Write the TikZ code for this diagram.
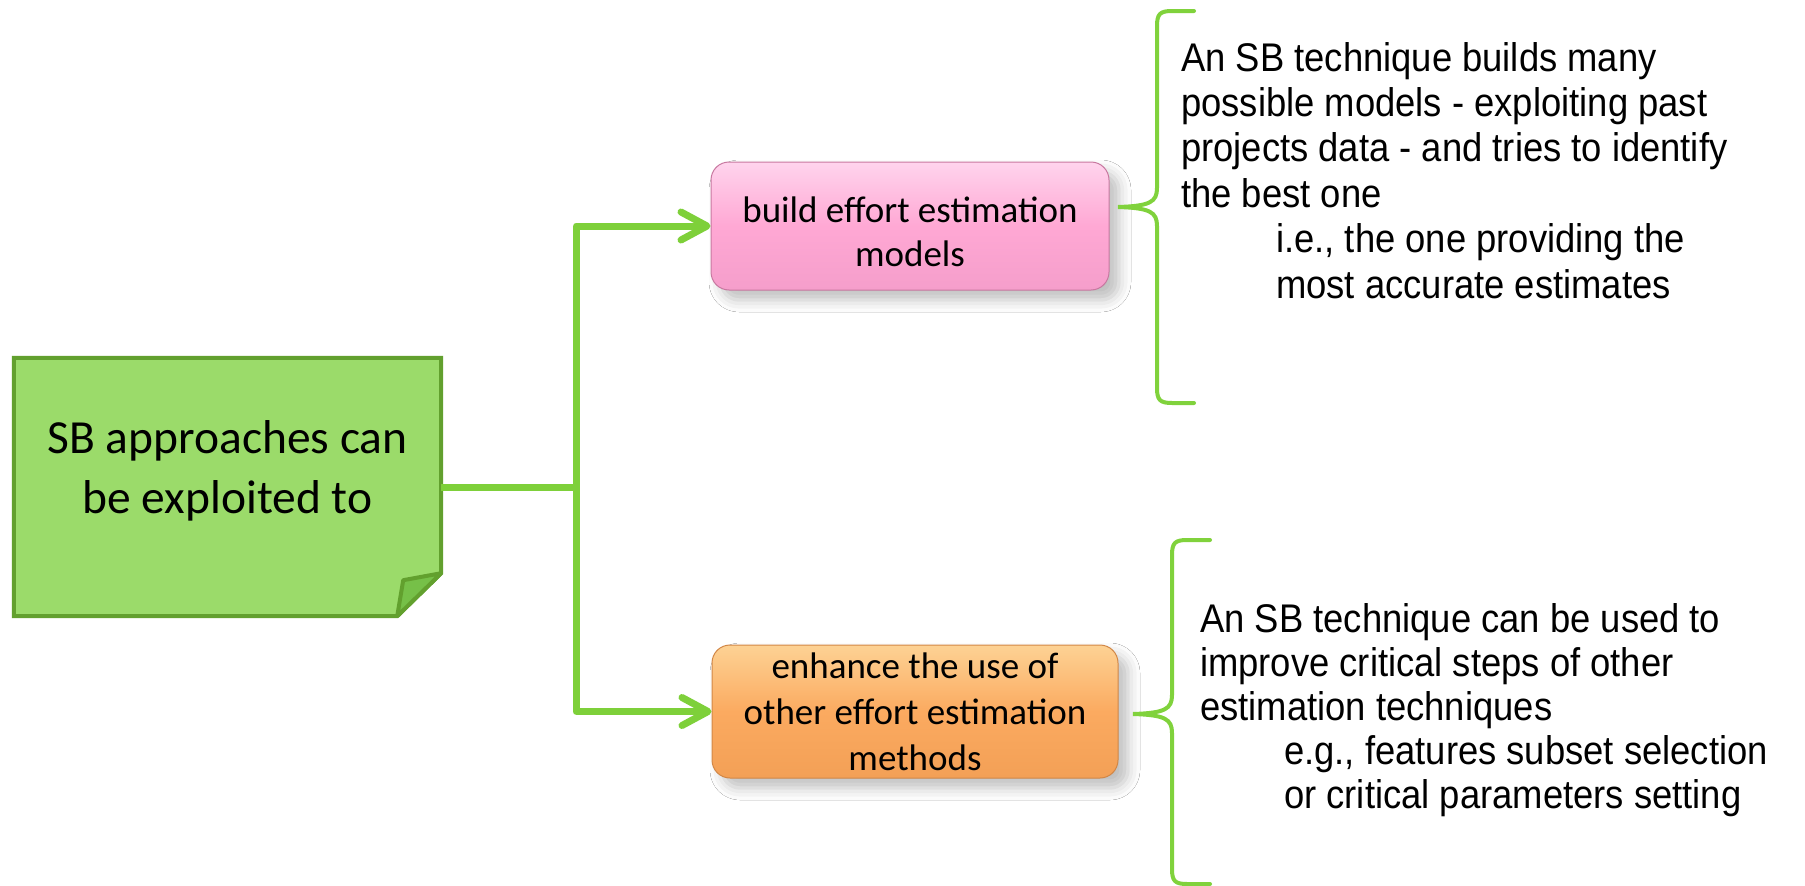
\documentclass[tikz,border=0pt]{standalone}
\usepackage{fontspec}
\newfontfamily\calfont{Carlito}
\newfontfamily\arialfont[FakeStretch=0.91]{Liberation Sans}
\usetikzlibrary{arrows.meta,calc,shadows.blur}
\definecolor{conngreen}{RGB}{126,208,58}
\definecolor{bracegreen}{RGB}{128,210,60}
\definecolor{notefill}{RGB}{155,219,106}
\definecolor{noteedge}{RGB}{98,160,46}
\definecolor{foldfill}{RGB}{118,192,72}
\definecolor{pinkbase}{RGB}{255,168,212}
\definecolor{pinktop}{RGB}{255,212,237}
\definecolor{pinkbot}{RGB}{245,158,203}
\definecolor{pinkedge}{RGB}{200,120,160}
\definecolor{orbase}{RGB}{251,170,96}
\definecolor{ortop}{RGB}{253,210,148}
\definecolor{orbot}{RGB}{243,160,86}
\definecolor{oredge}{RGB}{210,135,70}
\begin{document}
\begin{tikzpicture}[x=1pt,y=-1pt,
  conn/.style={draw=conngreen, line width=7pt, line join=round},
  arr/.style={-{Straight Barb[length=26pt,width=28pt,round]}},
  brace/.style={draw=bracegreen, line width=4pt, line cap=round},
  boxfont/.style={font=\calfont\fontsize{37}{44}\selectfont, align=center, text=black},
  bevelbox/.style={rounded corners=18pt, inner sep=0pt, line width=1pt,
    blur shadow={shadow xshift=10pt, shadow yshift=-10pt, shadow opacity=25, shadow blur radius=12pt}},
  sidetext/.style={font=\arialfont\fontsize{40}{45.4}\selectfont, align=left, anchor=north west, inner sep=0pt, text=black}
]
\useasboundingbox (0,0) rectangle (1805,886);
\fill[white] (0,0) rectangle (1805,886);

% note
\node[minimum width=427pt, minimum height=258pt, inner sep=0pt] (note) at (227.5,487) {};
\draw[fill=notefill, draw=noteedge, line width=4pt, line join=miter]
  (note.north west) -- (note.north east) -- ($(note.south east)+(0,-43)$)
  -- ($(note.south east)+(-44,0)$) -- (note.south west) -- cycle;
\draw[fill=foldfill, draw=noteedge, line width=4pt, line join=round]
  ($(note.south east)+(0,-43)$) -- ($(note.south east)+(-38,-36)$) -- ($(note.south east)+(-44,0)$) -- cycle;
\node[font=\calfont\fontsize{47.5}{60}\selectfont, align=center, inner sep=0pt] (notetxt) at (227.5,471) {SB approaches can\\be exploited to};

% boxes
\node[bevelbox, boxfont, draw=pinkedge, top color=pinktop, bottom color=pinkbot, middle color=pinkbase,
  minimum width=398pt, minimum height=128pt] (pink) at (910,226) {\rule{0pt}{37pt}build effort estimation\\models};
\node[bevelbox, boxfont, font=\calfont\fontsize{37}{46}\selectfont, draw=oredge, top color=ortop, bottom color=orbot, middle color=orbase,
  minimum width=406pt, minimum height=133pt] (orange) at (915,711.5) {enhance the use of\\other effort estimation\\methods};

% connectors
\coordinate (jn) at ($(note.east)+(135,0)$);
\draw[conn] (note.east) -- (jn);
\draw[conn,arr] (jn) |- (pink.west);
\draw[conn,arr] (jn) |- (orange.west);

% braces
\draw[brace] (1194,11) -- (1172,11) .. controls (1160,11) and (1157,14) .. (1157,26)
  -- (1157,188) .. controls (1157,202) and (1150,206) .. (1118,207)
  .. controls (1150,208) and (1157,212) .. (1157,226)
  -- (1157,388) .. controls (1157,400) and (1160,403) .. (1172,403) -- (1194,403);
\draw[brace] (1210,540) -- (1187,540) .. controls (1175,540) and (1172,543) .. (1172,555)
  -- (1172,695) .. controls (1172,709) and (1165,713) .. (1133,714)
  .. controls (1165,715) and (1172,719) .. (1172,733)
  -- (1172,869) .. controls (1172,881) and (1175,884) .. (1187,884) -- (1210,884);

% texts
\node[sidetext] (t1) at (1181,42) {An SB technique builds many\\possible models - exploiting past\\projects data - and tries to identify\\the best one\\\hspace*{95pt}i.e., the one providing the\\\hspace*{95pt}most accurate estimates};
\node[sidetext, font=\arialfont\fontsize{40}{44}\selectfont] (t2) at (1200,603) {An SB technique can be used to\\improve critical steps of other\\estimation techniques\\\hspace*{84pt}e.g., features subset selection\\\hspace*{84pt}or critical parameters setting};
\end{tikzpicture}
\end{document}
